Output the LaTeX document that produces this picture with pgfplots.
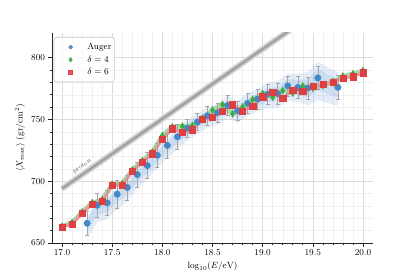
\documentclass[border=0pt]{standalone}
\usepackage{pgfplots}
\pgfplotsset{compat=1.18}
\usepackage{pgfplotstable}
\usepgfplotslibrary{fillbetween}

\definecolor{cblue}{RGB}{66,135,198}
\definecolor{cgreen}{RGB}{60,170,60}
\definecolor{cred}{RGB}{220,64,66}
\definecolor{bandblue}{RGB}{110,160,215}

\pgfplotstableread{
x y
17.0 663
17.1 665.5
17.2 674
17.3 681.5
17.4 684
17.5 696.5
17.6 697
17.7 708
17.8 715.5
17.9 722.3
18.0 734
18.1 742.5
18.2 739.8
18.3 741.8
18.4 750.5
18.5 752
18.6 756.5
18.7 762
18.8 757
18.9 761
19.0 768.5
19.1 771.8
19.2 767.3
19.3 774
19.4 772.8
19.5 776.8
19.6 778.3
19.7 780.3
19.8 783.5
19.9 784.7
20.0 787.8
}\redtab

\pgfplotstableread{
x y
17.0 663.5
17.1 666.5
17.2 675
17.3 682.5
17.4 685
17.5 697.5
17.6 698
17.7 709
17.8 716.5
17.9 723.5
18.0 736.8
18.1 744
18.2 744.5
18.3 745
18.4 751
18.5 757.5
18.6 762
18.7 754.6
18.8 760
18.9 766
19.0 771
19.1 768
19.2 773.4
19.3 771.5
19.4 777
19.5 775.5
19.6 777.5
19.7 780.5
19.8 785
19.9 787
20.0 789.5
}\greentab

\pgfplotstableread{
x y e up dn
17.25 666 10 5 12
17.35 680.5 10 5 14
17.45 682.5 10 5 13
17.55 689.5 11 5 12
17.65 695 10 5 11
17.75 705.4 10 5 11
17.85 712.7 10.5 5 11
17.95 721 10 6 10
18.05 729 10 6 10
18.15 736 10 6 10
18.25 743 7 7 10
18.35 748 7 7 10
18.45 753 8 7 10
18.55 755.5 8 7 10
18.65 761.3 8 8 10
18.75 757 8 8 10
18.85 763 8 8 10
18.95 766.5 8 8 10
19.05 770.5 8 9 11
19.15 771 8.5 10 12
19.25 777.2 8 10 12
19.35 776 9 11 12
19.45 775.5 9 13 14
19.55 783.6 9.5 13 18
19.75 776 10 12 15
}\bluetab

\pgfplotstableread{
x y
17.0 694
19.5 835.25
}\protontab

\begin{document}
\begin{tikzpicture}
\begin{axis}[
  at={(0,0)}, anchor=south west,
  scale only axis, width=321bp, height=210bp,
  xmin=16.9, xmax=20.1, ymin=650, ymax=820,
  axis x line*=bottom, axis y line*=left,
  axis line style={black!85, line width=0.8bp, -},
  xtick={17,17.5,18,18.5,19,19.5,20},
  ytick={650,700,750,800},
  minor x tick num=4, minor y tick num=4,
  tick align=outside,
  major tick length=3.5bp, minor tick length=2bp,
  tick style={black!85, line width=0.6bp},
  grid=both,
  major grid style={gray!28, line width=0.6bp},
  minor grid style={gray!12, line width=0.4bp},
  x tick label style={/pgf/number format/.cd, fixed, fixed zerofill, precision=1},
  y tick label style={/pgf/number format/.cd, fixed, precision=0},
  tick label style={font=\fontsize{9}{11}\selectfont},
  label style={font=\fontsize{9}{11}\selectfont},
  xlabel={$\log_{10}(E/\mathrm{eV})$},
  ylabel={$\langle X_{\mathrm{max}}\rangle\ (\mathrm{gr}/\mathrm{cm}^2)$},
  xlabel style={at={(axis description cs:0.5,-0.1095)}, anchor=center},
  ylabel style={at={(axis description cs:-0.0997,0.5)}, anchor=center},
  legend cell align=left,
  legend image code/.code={%
    \path[draw=none, fill=none] (0bp,-3bp) rectangle (26bp,3bp);
    \draw[#1, mark options={scale=0.6}] plot coordinates {(15.6bp,0bp)};},
  legend style={at={(axis description cs:0.0053,0.981)}, anchor=north west,
    draw=black!22, line width=0.6bp, rounded corners=2.5bp, fill=white, fill opacity=0.85, text opacity=1, draw opacity=1,
    font=\fontsize{9}{11}\selectfont, row sep=0bp, inner xsep=1bp, inner ysep=3.5bp,
    nodes={inner xsep=2bp, inner ysep=2.4bp},
    /tikz/every odd column/.append style={column sep=4.3bp}},
]
% proton band
\addplot[forget plot, no marks, draw=gray!22, line width=6.5bp, line cap=butt] table {\protontab};
\addplot[forget plot, no marks, draw=gray!42, line width=4.5bp, line cap=butt] table {\protontab};
\addplot[forget plot, no marks, draw=gray!62, line width=2.6bp, line cap=butt] table {\protontab};
\addplot[forget plot, no marks, draw=gray!80, line width=1bp, line cap=butt] table {\protontab};
\node[rotate=35, font=\fontsize{6}{7}\selectfont, text=black!70, inner sep=0pt] at (axis cs:17.2,711.8) {proton};

% blue systematic bands
\addplot[forget plot, draw=none, no marks, name path=o1] table[x=x, y expr=\thisrow{y}+\thisrow{up}] {\bluetab};
\addplot[forget plot, draw=none, no marks, name path=o2] table[x=x, y expr=\thisrow{y}-\thisrow{dn}] {\bluetab};
\addplot[forget plot, fill=bandblue, fill opacity=0.18, draw=none] fill between[of=o1 and o2];
\addplot[forget plot, draw=none, no marks, name path=i1] table[x=x, y expr=\thisrow{y}+0.55*\thisrow{up}] {\bluetab};
\addplot[forget plot, draw=none, no marks, name path=i2] table[x=x, y expr=\thisrow{y}-0.55*\thisrow{dn}] {\bluetab};
\addplot[forget plot, fill=bandblue, fill opacity=0.2, draw=none] fill between[of=i1 and i2];

% lines
\addplot[forget plot, no marks, draw=cgreen!45, line width=4.5bp, line join=round] table {\greentab};
\addplot[forget plot, no marks, draw=cred!55, line width=3bp, line join=round] table {\redtab};

% markers
\addplot[only marks, mark=*, mark size=3.2bp, color=cblue,
  error bars/.cd, y dir=both, y explicit,
  error bar style={gray!70, line width=0.5bp},
  error mark options={rotate=90, gray!70, mark size=2bp, line width=0.5bp}]
  table[x=x, y=y, y error=e] {\bluetab};
\addlegendentry{Auger}
\addplot[only marks, mark=diamond*, mark size=3.6bp, color=cgreen, mark options={xscale=0.75}] table {\greentab};
\addlegendentry{$\delta=4$}
\addplot[only marks, mark=square*, mark size=3.1bp, color=cred] table {\redtab};
\addlegendentry{$\delta=6$}
\end{axis}
\pgfresetboundingbox
\path (-52bp,-34bp) rectangle (363bp,243bp);
\end{tikzpicture}
\end{document}
